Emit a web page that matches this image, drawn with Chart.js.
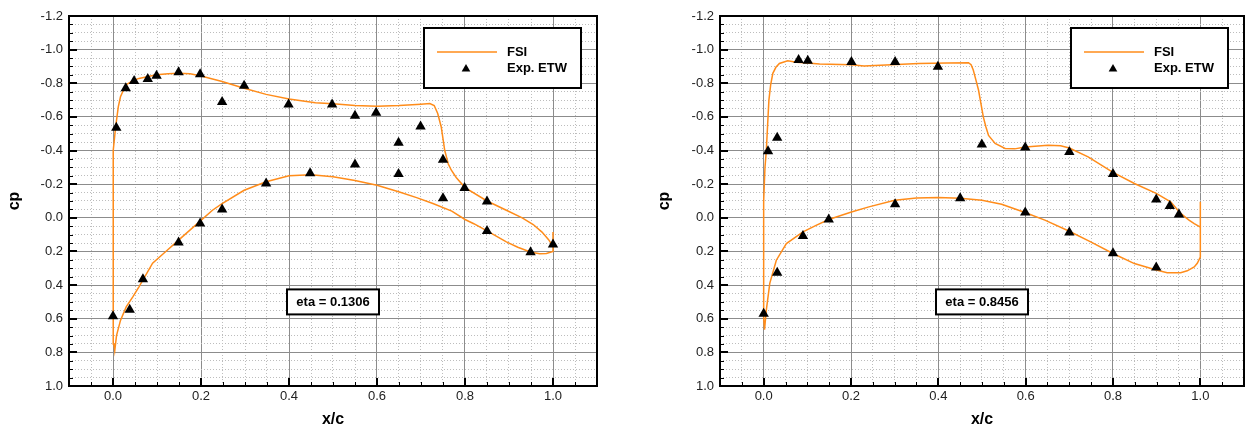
<!DOCTYPE html>
<html>
<head>
<meta charset="utf-8">
<script src="https://cdn.jsdelivr.net/npm/chart.js@4.4.1/dist/chart.umd.min.js"></script>
<style>
  html, body { margin: 0; padding: 0; background: #fff; }
  body { width: 1246px; height: 430px; overflow: hidden; position: relative; }
  .panel { position: absolute; top: 0; height: 430px; }
  #panelA { left: 0;     width: 620px; }
  #panelB { left: 620px; width: 630px; }
</style>
</head>
<body>
<div class="panel" id="panelA"><canvas id="chartA" width="620" height="430"></canvas></div>
<div class="panel" id="panelB"><canvas id="chartB" width="630" height="430"></canvas></div>
<script>
// ── Axis ticks ────────────────────────────────────────────────────────────────
const X_MAJOR = [0.0, 0.2, 0.4, 0.6, 0.8, 1.0];
const Y_MAJOR = [-1.2, -1.0, -0.8, -0.6, -0.4, -0.2, 0.0, 0.2, 0.4, 0.6, 0.8, 1.0];

// ── eta = 0.1306 ──────────────────────────────────────────────────────────────
// FSI: trailing edge -> lower surface -> leading edge -> upper surface -> trailing edge
const fsiAx = [1.0, 1.0, 0.985, 0.97, 0.95, 0.92, 0.894, 0.85, 0.82, 0.8, 0.77, 0.727, 0.69, 0.651, 0.6, 0.55, 0.5, 0.45, 0.4, 0.348, 0.298, 0.248, 0.226, 0.198, 0.149, 0.12, 0.09, 0.059, 0.045, 0.03, 0.017, 0.008, 0.004,
               0.002, 0.0, 0.0, 0.0, 0.002, 0.006, 0.012, 0.017, 0.029, 0.045, 0.059, 0.08, 0.099, 0.125, 0.149, 0.175, 0.198, 0.248, 0.298, 0.348, 0.4, 0.46, 0.5, 0.55, 0.6, 0.65, 0.7, 0.72, 0.73, 0.738, 0.746, 0.754, 0.762, 0.769, 0.78, 0.8, 0.85, 0.894, 0.93, 0.955, 0.975, 0.99, 1.0];
const fsiAy = [0.085, 0.2, 0.212, 0.213, 0.205, 0.175, 0.143, 0.078, 0.035, 0.01, -0.04, -0.085, -0.12, -0.154, -0.194, -0.222, -0.244, -0.256, -0.25, -0.214, -0.164, -0.085, -0.045, 0.02, 0.133, 0.2, 0.27, 0.41, 0.47, 0.53, 0.61, 0.7, 0.79,
               0.75, 0.6, 0.2, -0.2, -0.4, -0.54, -0.66, -0.72, -0.79, -0.815, -0.829, -0.84, -0.85, -0.857, -0.86, -0.856, -0.845, -0.81, -0.77, -0.734, -0.706, -0.684, -0.678, -0.668, -0.664, -0.668, -0.676, -0.68, -0.668, -0.62, -0.54, -0.4, -0.32, -0.283, -0.24, -0.18, -0.1, -0.045, 0.0, 0.04, 0.085, 0.13, 0.17];
const expAx = [0.0075, 0.029, 0.048, 0.079, 0.099, 0.149, 0.198, 0.248, 0.298, 0.399, 0.498, 0.55, 0.598, 0.649, 0.699, 0.75, 0.799, 0.85, 1.0,
               0.0, 0.038, 0.068, 0.149, 0.198, 0.248, 0.348, 0.448, 0.55, 0.649, 0.75, 0.85, 0.949];
const expAy = [-0.535, -0.77, -0.813, -0.825, -0.845, -0.865, -0.853, -0.688, -0.785, -0.674, -0.674, -0.607, -0.625, -0.446, -0.543, -0.345, -0.178, -0.097, 0.159,
               0.586, 0.546, 0.366, 0.147, 0.034, -0.049, -0.204, -0.265, -0.317, -0.261, -0.117, 0.078, 0.205];

// ── eta = 0.8456 ──────────────────────────────────────────────────────────────
const fsiBx = [1.0, 1.0, 0.993, 0.986, 0.97, 0.955, 0.924, 0.899, 0.849, 0.8, 0.75, 0.7, 0.644, 0.6, 0.545, 0.5, 0.45, 0.4, 0.35, 0.3, 0.241, 0.201, 0.149, 0.12, 0.09, 0.052, 0.029, 0.014, 0.006, 0.002,
               0.0, 0.0, 0.0, 0.003, 0.006, 0.009, 0.012, 0.016, 0.021, 0.028, 0.036, 0.055, 0.075, 0.1, 0.128, 0.2, 0.23, 0.28, 0.355, 0.42, 0.469, 0.475, 0.48, 0.486, 0.492, 0.503, 0.509, 0.515, 0.53, 0.553, 0.575, 0.599, 0.651, 0.68, 0.7, 0.743, 0.8, 0.849, 0.899, 0.932, 0.955, 0.974, 0.986, 0.999];
const fsiBy = [-0.095, 0.233, 0.27, 0.292, 0.315, 0.326, 0.326, 0.31, 0.272, 0.212, 0.145, 0.08, 0.014, -0.03, -0.081, -0.105, -0.117, -0.121, -0.118, -0.105, -0.065, -0.035, 0.01, 0.045, 0.084, 0.153, 0.252, 0.39, 0.55, 0.665,
               0.6, 0.2, -0.1, -0.3, -0.396, -0.55, -0.7, -0.79, -0.859, -0.895, -0.918, -0.934, -0.925, -0.92, -0.914, -0.91, -0.902, -0.908, -0.918, -0.92, -0.922, -0.91, -0.879, -0.82, -0.76, -0.6, -0.54, -0.49, -0.442, -0.412, -0.41, -0.421, -0.432, -0.428, -0.415, -0.362, -0.27, -0.204, -0.145, -0.095, -0.026, 0.014, 0.034, 0.054];
const expBx = [0.0, 0.01, 0.031, 0.031, 0.08, 0.09, 0.101, 0.149, 0.201, 0.301, 0.301, 0.399, 0.45, 0.4996, 0.599, 0.599, 0.7, 0.7, 0.8, 0.8, 0.899, 0.899, 0.93, 0.951];
const expBy = [0.57, -0.396, -0.476, 0.326, -0.938, 0.108, -0.934, 0.01, -0.926, -0.926, -0.081, -0.898, -0.117, -0.436, -0.418, -0.032, -0.392, 0.088, -0.261, 0.211, -0.109, 0.296, -0.071, -0.02];

// ── Style ─────────────────────────────────────────────────────────────────────
const ORANGE = "#ff8c1a";
const FONT   = "'Liberation Sans', Arial, sans-serif";

// ── Helpers ───────────────────────────────────────────────────────────────────
const round2  = v => Math.round(v * 100) / 100;
const steps   = (min, max, step) => Array.from({ length: Math.round((max - min) / step) + 1 }, (_, i) => round2(min + i * step));
const isMajor = (list, v) => list.some(m => Math.abs(m - v) < 1e-6);
const points  = (xs, ys) => xs.map((x, i) => ({ x, y: ys[i] }));

const X_ALL = steps(-0.1, 1.1, 0.05);
const Y_ALL = steps(-1.2, 1.0, 0.05);

function triangle(ctx, x, y, r) {
  ctx.beginPath();
  ctx.moveTo(x, y - r);
  ctx.lineTo(x + r * 0.866, y + r * 0.5);
  ctx.lineTo(x - r * 0.866, y + r * 0.5);
  ctx.closePath();
  ctx.fill();
}

// ── Frame, inward ticks, legend, eta label ────────────────────────────────────
const decor = {
  id: "decor",
  afterDatasetsDraw(chart, args, opts) {
    const { ctx, chartArea: a, scales: { x, y } } = chart;
    ctx.save();
    ctx.strokeStyle = "#000";

    y.ticks.forEach(t => {
      const major = isMajor(Y_MAJOR, t.value);
      const py = Math.round(y.getPixelForValue(t.value)) + (major ? 0 : 0.5);
      ctx.lineWidth = major ? 2 : 1;
      ctx.beginPath(); ctx.moveTo(a.left, py); ctx.lineTo(a.left + (major ? 8 : 4), py); ctx.stroke();
    });
    x.ticks.forEach(t => {
      const major = isMajor(X_MAJOR, t.value);
      const px = Math.round(x.getPixelForValue(t.value)) + (major ? 0 : 0.5);
      ctx.lineWidth = major ? 2 : 1;
      ctx.beginPath(); ctx.moveTo(px, a.bottom); ctx.lineTo(px, a.bottom - (major ? 8 : 4)); ctx.stroke();
    });

    ctx.lineWidth = 2;
    ctx.strokeRect(a.left, a.top, a.right - a.left, a.bottom - a.top);

    // legend
    const lw = 157, lh = 60;
    const lx = a.right - 16 - lw, ly = a.top + 12;
    ctx.fillStyle = "#fff";
    ctx.fillRect(lx, ly, lw, lh);
    ctx.strokeRect(lx, ly, lw, lh);
    ctx.strokeStyle = ORANGE; ctx.lineWidth = 1.5;
    ctx.beginPath(); ctx.moveTo(lx + 13, ly + 24); ctx.lineTo(lx + 73, ly + 24); ctx.stroke();
    ctx.fillStyle = "#000";
    triangle(ctx, lx + 42, ly + 41, 5);
    ctx.font = `bold 13px ${FONT}`;
    ctx.textBaseline = "middle";
    ctx.textAlign = "left";
    ctx.fillText("FSI", lx + 83, ly + 24);
    ctx.fillText("Exp. ETW", lx + 83, ly + 40);

    // eta box
    const ex = x.getPixelForValue(0.5), ey = y.getPixelForValue(0.5);
    const ew = 92, eh = 25;
    ctx.fillStyle = "#fff";
    ctx.fillRect(ex - ew / 2, ey - eh / 2, ew, eh);
    ctx.strokeStyle = "#000"; ctx.lineWidth = 2;
    ctx.strokeRect(ex - ew / 2, ey - eh / 2, ew, eh);
    ctx.fillStyle = "#000";
    ctx.textAlign = "center";
    ctx.fillText(opts.eta, ex, ey + 1);
    ctx.restore();
  }
};

// ── Chart ─────────────────────────────────────────────────────────────────────
function gridOpts(major) {
  return {
    drawTicks: false,
    lineWidth: 1,
    color: c => isMajor(major, c.tick.value) ? "#8c8c8c" : "#bdbdbd",
  };
}
function borderOpts(major) {
  return { display: false, dash: c => isMajor(major, c.tick.value) ? [] : [1, 2] };
}
function tickOpts(major, padding) {
  return {
    autoSkip: false, maxRotation: 0, minRotation: 0, padding,
    color: "#222", font: { family: FONT, size: 13 },
    callback: v => isMajor(major, v) ? v.toFixed(1) : "",
  };
}

function makeChart(id, o) {
  return new Chart(document.getElementById(id), {
    type: "scatter",
    data: {
      datasets: [
        { label: "Exp. ETW", data: points(o.expX, o.expY), pointStyle: "triangle", pointRadius: 6,
          backgroundColor: "#000", borderColor: "#000", borderWidth: 0, order: 1 },
        { label: "FSI", data: points(o.fsiX, o.fsiY), showLine: true, pointRadius: 0,
          borderColor: ORANGE, borderWidth: 1.5, fill: false, tension: 0, order: 2 },
      ]
    },
    options: {
      responsive: false, animation: false, events: [], devicePixelRatio: 1,
      layout: { padding: { left: 0, top: 16, right: o.padRight, bottom: 0 } },
      plugins: { legend: { display: false }, tooltip: { enabled: false }, decor: { eta: o.eta } },
      scales: {
        x: {
          type: "linear", position: "bottom", min: -0.1, max: 1.1,
          afterBuildTicks: s => { s.ticks = X_ALL.map(value => ({ value })); },
          afterFit: s => { s.height = 44; },
          ticks: tickOpts(X_MAJOR, 3),
          grid: gridOpts(X_MAJOR),
          border: borderOpts(X_MAJOR),
          title: { display: true, text: "x/c", color: "#000",
                   font: { family: FONT, size: 16, weight: "bold" }, padding: { top: 0, bottom: 1 } },
        },
        y: {
          type: "linear", position: "left", reverse: true, min: -1.2, max: 1.0,
          afterBuildTicks: s => { s.ticks = Y_ALL.map(value => ({ value })); },
          afterFit: s => { s.width = o.yWidth; },
          ticks: tickOpts(Y_MAJOR, 6),
          grid: gridOpts(Y_MAJOR),
          border: borderOpts(Y_MAJOR),
          title: { display: true, text: "cp", color: "#000",
                   font: { family: FONT, size: 16, weight: "bold" }, padding: { top: o.titlePad, bottom: 0 } },
        },
      }
    },
    plugins: [decor]
  });
}

makeChart("chartA", { fsiX: fsiAx, fsiY: fsiAy, expX: expAx, expY: expAy, eta: "eta = 0.1306", yWidth: 69,  padRight: 23, titlePad: 5 });
makeChart("chartB", { fsiX: fsiBx, fsiY: fsiBy, expX: expBx, expY: expBy, eta: "eta = 0.8456", yWidth: 100, padRight: 3,  titlePad: 35 });
</script>
</body>
</html>
